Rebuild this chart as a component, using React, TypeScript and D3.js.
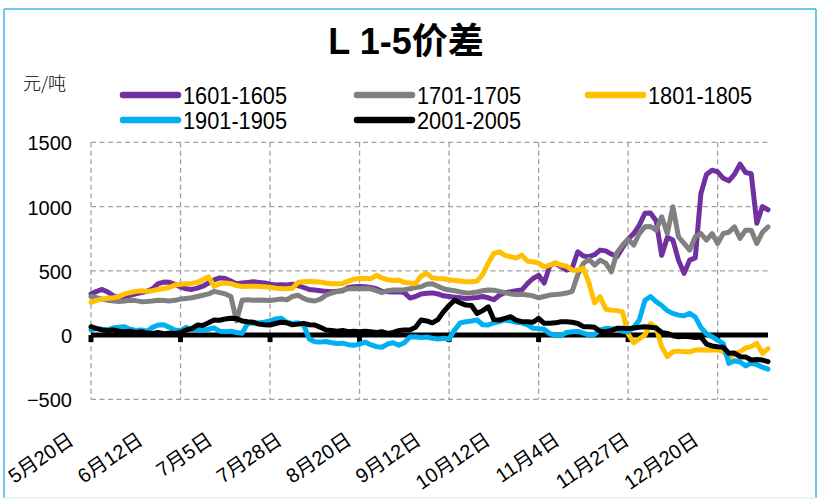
import React from "react";
import * as d3 from "d3";

const dates = ["5月20日", "6月12日", "7月5日", "7月28日", "8月20日", "9月12日", "10月12日", "11月4日", "11月27日", "12月20日"];
const yTicks = [-500, 0, 500, 1000, 1500];
const seriesNames = ["1601-1605", "1701-1705", "1801-1805", "1901-1905", "2001-2005"];
const seriesColors = ["#7030A0", "#808080", "#FFC000", "#00B0F0", "#000000"];

const s1601 = [
  320, 340, 355, 335, 305, 295, 300, 310, 320, 330,
  340, 360, 400, 412, 410, 395, 375, 360, 355, 365,
  380, 405, 430, 445, 440, 420, 400, 405, 410, 415,
  410, 405, 395, 390, 392, 390, 395, 385, 370, 355,
  350, 345, 340, 337, 340, 345, 370, 376, 378, 376,
  370, 360, 340, 337, 335, 337, 330, 288, 300, 320,
  325, 328, 320, 305, 300, 295, 290, 285, 288, 292,
  300, 290, 275, 310, 330, 337, 345, 350, 400, 440,
  465, 405, 540, 560, 530, 505, 520, 648, 615, 610,
  625, 661, 655, 630, 609, 680, 745, 790, 855, 948,
  950, 890, 620, 760, 740, 583, 480, 583, 600, 1100,
  1250, 1283, 1270, 1220, 1200, 1250, 1330, 1265, 1255, 870, 1000, 975,
];
const s1701 = [
  300, 290, 280, 270, 265, 262, 265, 270, 268, 260,
  262, 265, 270, 268, 265, 270, 280, 285, 290, 300,
  310, 320, 340, 330, 320, 300, 110, 270, 275, 270,
  272, 270, 268, 275, 280, 275, 300, 310, 285, 270,
  265, 280, 310, 327, 340, 350, 360, 362, 360, 362,
  360, 345, 330, 345, 350, 350, 352, 360, 370, 376,
  395, 400, 380, 360, 350, 345, 335, 328, 330, 335,
  345, 350, 348, 340, 330, 320, 315, 318, 312, 305,
  290, 300, 311, 315, 320, 327, 340, 470, 557, 590,
  544, 583, 560, 492, 640, 700, 745, 700, 790, 842,
  845, 816, 920, 790, 998, 765, 713, 661, 765, 790,
  739, 790, 713, 790, 800, 842, 752, 816, 816, 713, 800, 842,
];
const s1801 = [
  255, 270, 280, 287, 290, 300, 320, 330, 340, 345,
  340, 345, 355, 362, 370, 389, 395, 400, 402, 410,
  430, 453, 380, 400, 405, 400, 385, 378, 380, 380,
  378, 375, 372, 365, 362, 360, 365, 410, 415, 418,
  415, 412, 405, 400, 400, 402, 420, 435, 441, 440,
  438, 465, 445, 430, 425, 428, 410, 405, 402, 460,
  480, 445, 440, 438, 430, 425, 420, 415, 415, 420,
  470, 560, 635, 648, 620, 609, 600, 622, 575, 570,
  560, 531, 545, 560, 545, 535, 505, 505, 520, 404,
  250, 298, 200, 194, 190, 180, 10, -60, -30, 0,
  90, 60, -91, -168, -130, -125, -130, -130, -117, -115,
  -118, -115, -117, -125, -181, -150, -130, -100, -90, -65, -142, -105,
];
const s1901 = [
  40, 52, 45, 40, 55, 60, 65, 45, 35, 39,
  30, 60, 78, 80, 60, 39, 35, 60, 45, 39,
  35, 45, 55, 30, 26, 30, 20, 13, 91, 91,
  95, 100, 110, 125, 130, 100, 90, 95, 80, -30,
  -52, -55, -50, -60, -65, -63, -75, -80, -70, -55,
  -75, -90, -95, -70, -60, -80, -60, -15, -13, -20,
  -15, -25, -30, -25, -30, 40, 95, 104, 110, 117,
  80, 78, 95, 105, 117, 110, 100, 95, 80, 52,
  50, 45, 10, 0, -5, 20, 25, 28, 15, 0,
  5, 40, 52, 50, 45, 30, 26, 60, 117, 270,
  300, 260, 230, 190, 168, 155, 150, 170, 140, 60,
  10, -13, -40, -65, -220, -200, -210, -240, -220, -230, -250, -265,
];
const s2001 = [
  65, 50, 40, 35, 39, 30, 26, 30, 20, 26,
  15, 13, 20, 10, 15, 13, 20, 39, 50, 78,
  75, 95, 117, 115, 125, 130, 128, 110, 104, 100,
  85, 80, 78, 90, 100, 95, 80, 85, 91, 80,
  78, 60, 39, 35, 30, 35, 26, 30, 26, 30,
  26, 20, 26, 13, 20, 35, 39, 40, 60, 117,
  110, 95, 120, 181, 230, 272, 250, 233, 230, 168,
  190, 220, 120, 117, 130, 143, 115, 104, 104, 100,
  130, 91, 91, 95, 104, 104, 100, 90, 65, 65,
  60, 30, 26, 35, 52, 52, 50, 55, 60, 65,
  60, 55, 20, 13, -5, -13, -10, -13, -20, -15,
  -70, -85, -91, -95, -142, -140, -168, -170, -194, -190, -195, -207,
];

const allSeries = [s1601, s1701, s1801, s1901, s2001];

const FONT = "'Liberation Sans', Arial, 'Noto Sans CJK SC', sans-serif";
const CJK = "'Noto Sans CJK SC', sans-serif";

export default function App() {
  const W = 821;
  const H = 500;
  const left = 91;
  const right = 768;
  const top = 142.3;
  const bottom = 399.3;
  const n = s1601.length;

  const x = d3.scaleLinear().domain([0, n - 1]).range([left, right]);
  const y = d3.scaleLinear().domain([-500, 1500]).range([bottom, top]);
  const line = d3
    .line<number>()
    .x((_, i) => x(i))
    .y((d) => y(d))
    .curve(d3.curveLinear);

  const gridIdx = d3.range(0, n, 16);
  const labelX = d3.scalePoint<string>().domain(dates).range([75, 700]);

  const legendItems = seriesNames.map((name, i) => ({
    name,
    color: seriesColors[i],
    lx: [123, 357, 588, 123, 357][i],
    ly: [95, 95, 95, 120, 120][i],
  }));

  return (
    <svg
      width={W}
      height={H}
      style={{ position: "absolute", left: 0, top: 0, background: "#fff" }}
    >
      <rect x={0} y={0} width={W} height={H} fill="#fff" />
      {/* border */}
      <line x1={4} y1={9} x2={816} y2={9} stroke="#3EB4E8" strokeWidth={1.5} />
      <line x1={4} y1={9} x2={4} y2={498} stroke="#3EB4E8" strokeWidth={1.5} />
      <line x1={816} y1={9} x2={816} y2={498} stroke="#3EB4E8" strokeWidth={1.5} />
      <line x1={4} y1={498} x2={816} y2={498} stroke="#DDF2FA" strokeWidth={1.5} />

      {/* title */}
      <text
        x={406}
        y={54}
        textAnchor="middle"
        fontFamily={FONT}
        fontWeight="bold"
        fontSize={36}
        fill="#000"
      >
        L 1-5价差
      </text>

      {/* unit */}
      <text x={23} y={90} fontFamily={CJK} fontSize={18} fontWeight={300} fill="#000">
        元/吨
      </text>

      {/* legend */}
      {legendItems.map((it) => (
        <g key={it.name}>
          <line
            x1={it.lx}
            x2={it.lx + 55}
            y1={it.ly}
            y2={it.ly}
            stroke={it.color}
            strokeWidth={6.5}
            strokeLinecap="round"
          />
          <text
            x={it.lx + 60}
            y={it.ly + 8.5}
            fontFamily={FONT}
            fontSize={24}
            textLength={104}
            lengthAdjust="spacingAndGlyphs"
            fill="#000"
          >
            {it.name}
          </text>
        </g>
      ))}

      {/* horizontal gridlines */}
      {yTicks
        .filter((t) => t !== 0)
        .map((t) => (
          <line
            key={"h" + t}
            x1={left}
            x2={right}
            y1={y(t)}
            y2={y(t)}
            stroke="#A0A0A0"
            strokeWidth={1.3}
            strokeDasharray="5,3.5"
          />
        ))}
      {/* vertical gridlines */}
      {gridIdx.map((g) => (
        <line
          key={"v" + g}
          x1={x(g)}
          x2={x(g)}
          y1={top}
          y2={bottom}
          stroke="#A0A0A0"
          strokeWidth={1.3}
          strokeDasharray="5,3.5"
        />
      ))}

      {/* y labels */}
      {yTicks.map((t) => (
        <text
          key={"yl" + t}
          x={72}
          y={y(t) + 8}
          textAnchor="end"
          fontFamily={FONT}
          fontSize={20}
          fill="#000"
        >
          {t < 0 ? "\u2212" + Math.abs(t) : String(t)}
        </text>
      ))}

      {/* x axis at zero */}
      <line x1={left} x2={right} y1={y(0)} y2={y(0)} stroke="#000" strokeWidth={5} />
      {gridIdx.map((g) => (
        <rect key={"t" + g} x={x(g) - 2.5} y={y(0)} width={5} height={7} fill="#000" />
      ))}

      {/* series */}
      {allSeries.map((s, i) => (
        <path
          key={seriesNames[i]}
          d={line(s) || ""}
          fill="none"
          stroke={seriesColors[i]}
          strokeWidth={5}
          strokeLinejoin="round"
          strokeLinecap="round"
        />
      ))}

      {/* x labels */}
      {dates.map((d) => (
        <text
          key={d}
          transform={`translate(${labelX(d)},443) rotate(-34)`}
          textAnchor="end"
          fontFamily={FONT}
          fontSize={20}
          fill="#000"
        >
          {d}
        </text>
      ))}
    </svg>
  );
}
